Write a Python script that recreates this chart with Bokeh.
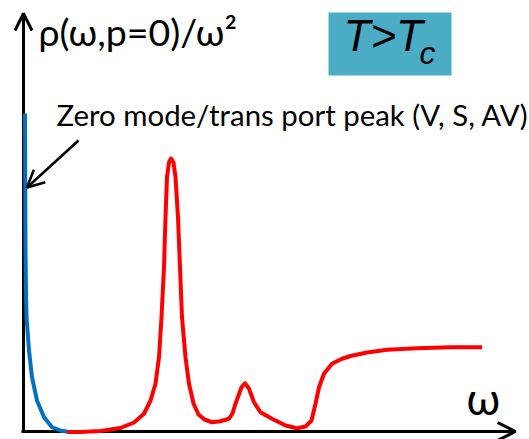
from bokeh.plotting import figure
from bokeh.models import Range1d, Label, Arrow, OpenHead, BoxAnnotation
from bokeh.embed import file_html
from bokeh.resources import INLINE

# ---- data (arbitrary units) ----
# zero mode / transport peak (blue)
omega_zero = [0.03, 0.04, 0.05, 0.06, 0.11, 0.17, 0.27, 0.41, 0.57, 0.77, 0.87]
rho_zero = [12.72, 7.24, 5.64, 4.57, 3.24, 2.17, 1.24, 0.57, 0.17, 0.02, 0.0]

# rest of the spectral function (red)
omega_spec = [0.87, 1.14, 1.54, 1.94, 2.21, 2.41, 2.54, 2.64, 2.71, 2.76, 2.81,
              2.84, 2.87, 2.91, 2.95, 3.00, 3.04, 3.09, 3.13, 3.17, 3.24, 3.31,
              3.40, 3.50, 3.62, 3.77, 3.94, 4.11, 4.18, 4.24, 4.36, 4.43, 4.51,
              4.61, 4.74, 4.97, 5.24, 5.47, 5.64, 5.76, 5.84, 5.91, 6.01, 6.17,
              6.37, 6.54, 6.87, 7.27, 7.87, 8.54, 9.17]
rho_spec = [-0.02, -0.02, 0.02, 0.14, 0.36, 0.71, 1.24, 1.91, 2.97, 4.57, 6.57,
            8.57, 10.17, 10.76, 10.92, 10.76, 10.17, 8.57, 6.57, 4.57, 2.97, 1.91,
            1.12, 0.68, 0.48, 0.37, 0.41, 0.51, 0.72, 1.11, 1.77, 1.93, 1.71,
            1.17, 0.77, 0.51, 0.24, 0.13, 0.20, 0.44, 1.11, 1.77, 2.31, 2.71,
            2.91, 3.02, 3.16, 3.27, 3.33, 3.37, 3.37]

y_label = "ρ(ω,p=0)/ω²"
x_label = "ω"
note_text = "Zero mode/trans port peak (V, S, AV)"
box_main = "T>T"
box_sub = "c"

# ---- layout helpers (pixel position -> data position) ----
W, H = 529, 439
def dx(px):
    return (px - 23) / 50.0
def dy(py):
    return (431 - py) / 25.0

p = figure(width=W, height=H, output_backend="svg", toolbar_location=None,
           x_range=Range1d(dx(0), dx(W)), y_range=Range1d(dy(H), dy(0)),
           x_axis_location=None, y_axis_location=None,
           min_border=0, min_border_left=0, min_border_right=0,
           min_border_top=0, min_border_bottom=0)
p.grid.visible = False
p.outline_line_color = None
p.background_fill_color = "white"
p.border_fill_color = "white"

# axes drawn as arrows
p.add_layout(Arrow(x_start=dx(21), y_start=0, x_end=dx(515), y_end=0,
                   line_width=3, line_color="black", level="underlay",
                   end=OpenHead(size=18, line_width=3, line_color="black")))
p.add_layout(Arrow(x_start=0, y_start=0, x_end=0, y_end=dy(13),
                   line_width=3, line_color="black", level="underlay",
                   end=OpenHead(size=17, line_width=3, line_color="black")))

# curves
p.line(omega_zero, rho_zero, line_color="#0070C0", line_width=4, line_join="round")
p.line(omega_spec, rho_spec, line_color="#FF0000", line_width=4, line_join="round")

# pointer arrow
p.add_layout(Arrow(x_start=dx(78), y_start=dy(140), x_end=dx(26.5), y_end=dy(187),
                   line_width=2.5, line_color="black",
                   end=OpenHead(size=17, line_width=2.5, line_color="black")))

# T > Tc box
p.add_layout(BoxAnnotation(left=dx(328), right=dx(451), top=dy(12), bottom=dy(75),
                           fill_color="#4BACC6", fill_alpha=1.0, line_color=None,
                           level="underlay"))

p.add_layout(Label(x=dx(38), y=dy(31), text=y_label, text_font="Lato",
                   text_font_size="37.5px", text_color="black",
                   text_baseline="alphabetic", text_align="left"))
p.add_layout(Label(x=dx(56), y=dy(114), text=note_text, text_font="Lato",
                   text_font_size="29.4px", text_color="black",
                   text_baseline="alphabetic", text_align="left"))
p.add_layout(Label(x=dx(466), y=dy(397), text=x_label, text_font="Lato",
                   text_font_size="44px", text_color="black",
                   text_baseline="alphabetic", text_align="left"))
p.add_layout(Label(x=dx(343), y=dy(35), text=box_main, text_font="Liberation Sans",
                   text_font_style="italic", text_font_size="44px", text_color="black",
                   text_baseline="alphabetic", text_align="left"))
p.add_layout(Label(x=dx(419), y=dy(52), text=box_sub, text_font="Liberation Sans",
                   text_font_style="italic", text_font_size="32px", text_color="black",
                   text_baseline="alphabetic", text_align="left"))

open("out.html", "w").write(file_html(p, INLINE))
